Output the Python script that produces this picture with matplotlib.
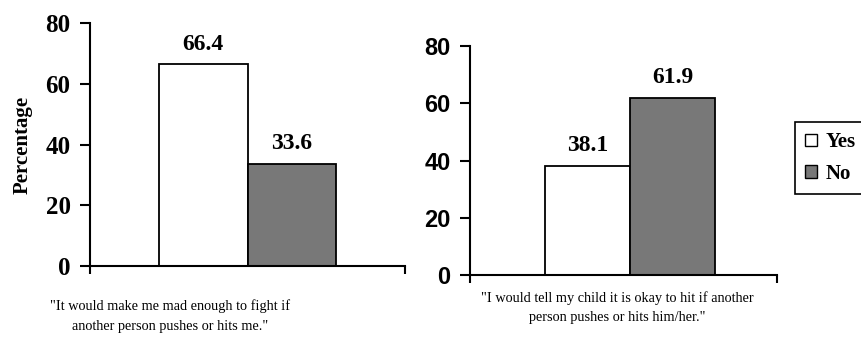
import matplotlib
matplotlib.use("Agg")
import matplotlib.pyplot as plt
from matplotlib.patches import Patch

# data
answers = ["Yes", "No"]
fight_pct = [66.4, 33.6]
tell_child_pct = [38.1, 61.9]
yticks = [0, 20, 40, 60, 80]
captions = [
    '"It would make me mad enough to fight if\nanother person pushes or hits me."',
    '"I would tell my child it is okay to hit if another\nperson pushes or hits him/her."',
]

colors = ["white", "#787878"]
serif = "Liberation Serif"
sans = "Liberation Sans"

fig = plt.figure(figsize=(8.61, 3.58), dpi=100)
ax1 = fig.add_axes([90 / 861, 1 - 266 / 358, 315 / 861, 243 / 358])
ax2 = fig.add_axes([470 / 861, 1 - 275 / 358, 307 / 861, 229 / 358])


def draw(ax, values, tick_font, tick_size, xlim):
    pos = [-0.5, 0.5]
    bars = ax.bar(pos, values, width=1.0, color=colors, edgecolor="black", linewidth=1.3)
    for b, v in zip(bars, values):
        ax.annotate(f"{v:.1f}", (b.get_x() + b.get_width() / 2, v),
                    xytext=(0, 7), textcoords="offset points",
                    ha="center", va="bottom", fontsize=17,
                    fontweight="bold", family=serif)
    ax.set_ylim(0, 80)
    ax.set_xlim(*xlim)
    ax.set_yticks(yticks)
    ax.set_yticklabels([str(t) for t in yticks], fontsize=tick_size,
                       fontweight="bold", family=tick_font)
    ax.set_xticks(list(xlim))
    ax.set_xticklabels([])
    ax.spines["top"].set_visible(False)
    ax.spines["right"].set_visible(False)
    ax.spines["left"].set_linewidth(1.5)
    ax.spines["bottom"].set_linewidth(1.5)
    ax.tick_params(axis="y", direction="out", length=7, width=1.5, pad=7)
    ax.tick_params(axis="x", direction="out", length=6, width=1.5)


draw(ax1, fight_pct, serif, 18, (-1.77, 1.77))
draw(ax2, tell_child_pct, sans, 17, (-1.88, 1.73))

ax1.set_ylabel("Percentage", fontsize=15, fontweight="bold", family=serif, labelpad=9)

fig.text(170 / 861, 1 - 316 / 358, captions[0], ha="center", va="center",
         fontsize=10.3, family=serif, linespacing=1.65)
fig.text(617 / 861, 1 - 308 / 358, captions[1], ha="center", va="center",
         fontsize=10.3, family=serif, linespacing=1.6)

handles = [Patch(facecolor=c, edgecolor="black", linewidth=1) for c in colors]
leg = fig.legend(handles, answers, loc="upper left",
                 bbox_to_anchor=(795 / 861, 1 - 122 / 358),
                 prop={"family": serif, "weight": "bold", "size": 15},
                 handlelength=0.55, handleheight=0.55, handletextpad=0.4,
                 borderaxespad=0, borderpad=0.5, labelspacing=0.55,
                 fancybox=False, framealpha=1)
leg.get_frame().set_edgecolor("black")
leg.get_frame().set_linewidth(1.2)

fig.savefig("out.png", dpi=100)
